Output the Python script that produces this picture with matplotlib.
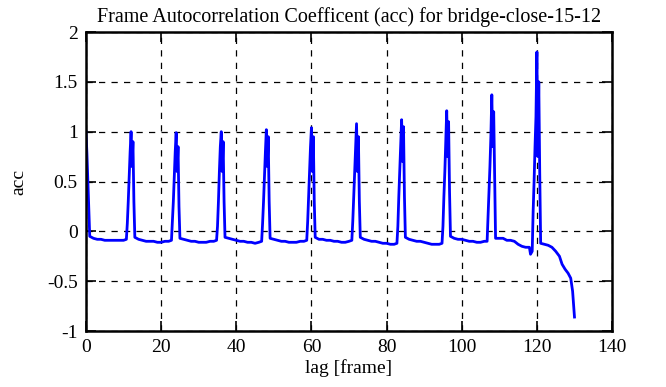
import matplotlib
matplotlib.use("Agg")
import matplotlib.pyplot as plt

# lag [frame] and acc values
lag = [
    0, 0.25, 0.5, 0.75, 1, 2, 3, 4, 5, 6, 7, 8, 9, 10,
    10.75, 11, 11.25, 11.5, 11.75, 12, 12.25, 12.5, 12.75, 13,
    14, 15, 16, 17, 18, 19, 20, 21, 22,
    22.75, 23, 23.25, 23.5, 23.75, 24, 24.25, 24.5, 24.75, 25,
    26, 27, 28, 29, 30, 31, 32, 33, 34,
    34.75, 35, 35.25, 35.5, 35.75, 36, 36.25, 36.5, 36.75, 37,
    38, 39, 40, 41, 42, 43, 44, 45, 46,
    46.75, 47, 47.25, 47.5, 47.75, 48, 48.25, 48.5, 48.75, 49,
    50, 51, 52, 53, 54, 55, 56, 57, 58,
    58.75, 59, 59.25, 59.5, 59.75, 60, 60.25, 60.5, 60.75, 61,
    62, 63, 64, 65, 66, 67, 68, 69, 70,
    70.75, 71, 71.25, 71.5, 71.75, 72, 72.25, 72.5, 72.75, 73,
    74, 75, 76, 77, 78, 79, 80, 81, 82,
    82.75, 83, 83.25, 83.5, 83.75, 84, 84.25, 84.5, 84.75, 85,
    86, 87, 88, 89, 90, 91, 92, 93, 94,
    94.75, 95, 95.25, 95.5, 95.75, 96, 96.25, 96.5, 96.75, 97,
    98, 99, 100, 101, 102, 103, 104, 105, 106,
    106.75, 107, 107.25, 107.5, 107.75, 108, 108.25, 108.5, 108.75, 109,
    110, 111, 112, 113, 114, 115, 116, 117, 118, 118.3,
    118.75, 119, 119.25, 119.5, 119.75, 120, 120.25, 120.5, 120.75, 121,
    122, 123, 124, 125, 126, 126.7, 127.5, 128.3, 129, 129.5, 130,
]
acc = [
    1.0, 0.78, 0.5, 0.25, -0.05, -0.07, -0.08, -0.08, -0.09, -0.09, -0.09, -0.09, -0.09, -0.09,
    -0.08, 0.08, 0.3, 0.55, 0.8, 1.0, 0.65, 0.9, 0.3, -0.06,
    -0.08, -0.09, -0.1, -0.1, -0.1, -0.11, -0.11, -0.1, -0.1,
    -0.09, 0.1, 0.3, 0.55, 0.8, 0.99, 0.6, 0.85, 0.25, -0.07,
    -0.08, -0.09, -0.1, -0.1, -0.11, -0.11, -0.11, -0.1, -0.1,
    -0.09, 0.05, 0.3, 0.6, 0.85, 1.0, 0.6, 0.9, 0.3, -0.06,
    -0.07, -0.08, -0.09, -0.1, -0.1, -0.11, -0.11, -0.12, -0.11,
    -0.1, 0.08, 0.3, 0.55, 0.8, 1.02, 0.65, 0.95, 0.3, -0.07,
    -0.08, -0.09, -0.1, -0.1, -0.11, -0.11, -0.11, -0.1, -0.1,
    -0.09, 0.1, 0.35, 0.6, 0.85, 1.04, 0.6, 0.95, 0.3, -0.06,
    -0.08, -0.08, -0.09, -0.09, -0.1, -0.1, -0.11, -0.11, -0.1,
    -0.09, 0.1, 0.35, 0.6, 0.85, 1.08, 0.6, 0.95, 0.3, -0.06,
    -0.08, -0.09, -0.1, -0.1, -0.11, -0.12, -0.12, -0.13, -0.13,
    -0.12, 0.05, 0.35, 0.6, 0.85, 1.12, 0.7, 1.05, 0.35, -0.06,
    -0.08, -0.09, -0.1, -0.1, -0.11, -0.12, -0.13, -0.13, -0.13,
    -0.12, 0.05, 0.35, 0.6, 0.9, 1.21, 0.75, 1.1, 0.4, -0.05,
    -0.07, -0.08, -0.08, -0.09, -0.1, -0.1, -0.11, -0.11, -0.1,
    -0.1, 0.15, 0.4, 0.65, 0.95, 1.37, 0.85, 1.2, 0.55, -0.07,
    -0.07, -0.07, -0.09, -0.09, -0.1, -0.13, -0.15, -0.16, -0.16, -0.23,
    -0.2, 0.2, 0.5, 0.85, 1.15, 1.8, 0.75, 1.5, 0.6, -0.12,
    -0.13, -0.14, -0.16, -0.2, -0.25, -0.33, -0.38, -0.42, -0.47, -0.6, -0.86,
]

xticks = [0, 20, 40, 60, 80, 100, 120, 140]
yticks = [-1, -0.5, 0, 0.5, 1, 1.5, 2]
ytick_labels = ["-1", "-0.5", "0", "0.5", "1", "1.5", "2"]

plt.rcParams["font.family"] = ["Liberation Serif", "DejaVu Serif"]

fig = plt.figure(figsize=(6.66, 3.87), dpi=100)
ax = fig.add_axes([0.1291, 0.1447, 0.7899, 0.7726])
ax.plot(lag, acc, color="#0000ff", linewidth=2.0)

ax.set_xlim(0, 140)
ax.set_ylim(-1, 2)
ax.set_xticks(xticks)
ax.set_yticks(yticks)
ax.set_yticklabels(ytick_labels)
ax.grid(True, color="black", linestyle=(0, (5, 5)), linewidth=0.9)
ax.tick_params(direction="in", length=7, width=1.2, top=True, right=True, labelsize=14, pad=6)
for sp in ax.spines.values():
    sp.set_linewidth(1.8)

ax.set_title("Frame Autocorrelation Coefficent (acc) for bridge-close-15-12", fontsize=14.5, pad=7)
ax.set_xlabel("lag [frame]", fontsize=14, labelpad=2)
ax.set_ylabel("acc", fontsize=14, labelpad=14)

fig.savefig("out.png", dpi=100)
